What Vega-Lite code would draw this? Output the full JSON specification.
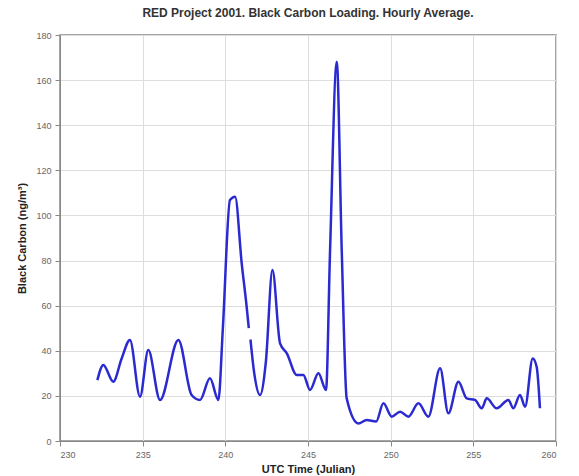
{
  "$schema": "https://vega.github.io/schema/vega-lite/v6.json",
  "width": 496,
  "height": 406,
  "autosize": {"type": "none"},
  "padding": {"left": 60, "top": 35, "right": 23, "bottom": 35},
  "background": "white",
  "title": {"text": "RED Project 2001. Black Carbon Loading. Hourly Average.", "font": "Liberation Sans", "fontSize": 12, "fontWeight": "bold", "color": "#333", "offset": 11, "anchor": "middle"},
  "config": {
    "view": {"stroke": "#888", "strokeWidth": 1.5},
    "axis": {"labelFont": "Liberation Sans", "titleFont": "Liberation Sans", "labelFontSize": 9, "labelColor": "#666", "titleFontSize": 11, "titleFontWeight": "bold", "titleColor": "#222", "gridColor": "#ddd", "gridWidth": 1, "domainColor": "#888", "tickColor": "#888", "tickSize": 5}
  },
  "data": {"values": [
    {"t": 232.26, "bc": 27},
    {"t": 232.62, "bc": 33.7},
    {"t": 233.22, "bc": 26.3},
    {"t": 233.73, "bc": 36.6},
    {"t": 234.23, "bc": 44.8},
    {"t": 234.84, "bc": 19.6},
    {"t": 235.34, "bc": 40.3},
    {"t": 236.05, "bc": 18.2},
    {"t": 237.16, "bc": 44.8},
    {"t": 237.96, "bc": 20.4},
    {"t": 238.47, "bc": 18.2},
    {"t": 239.07, "bc": 27.8},
    {"t": 239.58, "bc": 18.2},
    {"t": 239.85, "bc": 50},
    {"t": 240.28, "bc": 106.8},
    {"t": 240.59, "bc": 108.3},
    {"t": 240.99, "bc": 78.8},
    {"t": 241.29, "bc": 59.5},
    {"t": 241.42, "bc": 50},
    {"t": 241.47, "bc": null},
    {"t": 241.52, "bc": 45},
    {"t": 241.75, "bc": 30},
    {"t": 242.1, "bc": 20.4},
    {"t": 242.45, "bc": 35},
    {"t": 242.85, "bc": 75.8},
    {"t": 243.31, "bc": 43.3},
    {"t": 243.72, "bc": 38.9},
    {"t": 244.32, "bc": 29.3},
    {"t": 244.72, "bc": 29.3},
    {"t": 245.12, "bc": 22.6},
    {"t": 245.63, "bc": 30},
    {"t": 246.09, "bc": 22.6},
    {"t": 246.33, "bc": 83.2},
    {"t": 246.74, "bc": 168.1},
    {"t": 247.04, "bc": 84.7},
    {"t": 247.34, "bc": 18.9},
    {"t": 248.05, "bc": 7.8},
    {"t": 248.55, "bc": 9.3},
    {"t": 249.12, "bc": 8.6},
    {"t": 249.56, "bc": 16.7},
    {"t": 250.07, "bc": 10.8},
    {"t": 250.57, "bc": 13},
    {"t": 251.07, "bc": 10.8},
    {"t": 251.68, "bc": 16.7},
    {"t": 252.28, "bc": 10.8},
    {"t": 252.99, "bc": 32.2},
    {"t": 253.49, "bc": 12.3},
    {"t": 254.1, "bc": 26.3},
    {"t": 254.6, "bc": 18.9},
    {"t": 255.1, "bc": 18.2},
    {"t": 255.51, "bc": 14.5},
    {"t": 255.81, "bc": 18.9},
    {"t": 256.41, "bc": 14.5},
    {"t": 257.12, "bc": 18.2},
    {"t": 257.42, "bc": 14.5},
    {"t": 257.82, "bc": 20.4},
    {"t": 258.13, "bc": 15.2},
    {"t": 258.59, "bc": 36.6},
    {"t": 258.83, "bc": 32.9},
    {"t": 259.03, "bc": 14.5}
  ]},
  "mark": {"type": "line", "interpolate": "monotone", "color": "#2a2ad0", "strokeWidth": 2.5},
  "encoding": {
    "x": {"field": "t", "type": "quantitative", "scale": {"domain": [230, 260], "nice": false, "zero": false}, "axis": {"title": "UTC Time (Julian)", "values": [230, 235, 240, 245, 250, 255, 260], "titlePadding": 4, "labelPadding": 4}},
    "y": {"field": "bc", "type": "quantitative", "scale": {"domain": [0, 180], "nice": false}, "axis": {"title": "Black Carbon (ng/m³)", "values": [0, 20, 40, 60, 80, 100, 120, 140, 160, 180], "titlePadding": 8, "labelPadding": 4}}
  }
}
